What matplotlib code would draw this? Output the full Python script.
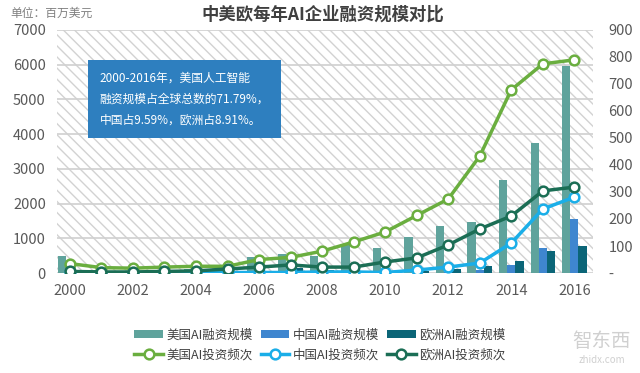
import numpy as np
import matplotlib
matplotlib.use('Agg')
import matplotlib.pyplot as plt
from matplotlib.patches import Rectangle

plt.rcParams['font.family'] = ['Noto Sans CJK SC', 'DejaVu Sans']
plt.rcParams['hatch.color'] = '#d2d2d2'
plt.rcParams['hatch.linewidth'] = 1.0

# 数据
years = np.arange(2000, 2017)
us_fund = [490, 80, 60, 100, 120, 150, 450, 550, 500, 800, 720, 1040, 1350, 1470, 2680, 3750, 5960]
cn_fund = [0, 0, 0, 0, 0, 0, 20, 60, 80, 10, 10, 20, 30, 90, 230, 720, 1560]
eu_fund = [0, 0, 0, 0, 0, 0, 30, 150, 100, 20, 30, 50, 110, 200, 340, 630, 780]
us_freq = [35, 20, 18, 22, 25, 25, 50, 58, 81, 115, 152, 213, 274, 433, 678, 774, 789]
cn_freq = [2, 1, 1, 2, 2, 2, 2, 2, 4, 4, 2, 11, 22, 37, 111, 237, 281]
eu_freq = [6, 4, 4, 6, 8, 15, 22, 30, 22, 22, 41, 56, 104, 163, 211, 304, 318]

c_us_bar, c_cn_bar, c_eu_bar = '#5fa39c', '#3f86cf', '#0b6577'
c_us_line, c_cn_line, c_eu_line = '#6aae3f', '#1aaee8', '#1b6e55'

fig = plt.figure(figsize=(6.4, 3.73), dpi=100)
ax = fig.add_axes([0.089, 0.268, 0.838, 0.652])
ax2 = ax.twinx()

# 背景斜线
ax.add_patch(Rectangle((0, 0), 1, 1, transform=ax.transAxes, facecolor='white',
                       edgecolor='#d2d2d2', hatch='\\\\\\', linewidth=0, zorder=0))

w = 0.26
b1 = ax.bar(years - w, us_fund, w, color=c_us_bar, label='美国AI融资规模', zorder=2)
b2 = ax.bar(years, cn_fund, w, color=c_cn_bar, label='中国AI融资规模', zorder=2)
b3 = ax.bar(years + w, eu_fund, w, color=c_eu_bar, label='欧洲AI融资规模', zorder=2)

mk = dict(marker='o', markersize=7, markerfacecolor='white', markeredgewidth=1.8, linewidth=2.5)
l1, = ax2.plot(years, us_freq, color=c_us_line, markeredgecolor=c_us_line, label='美国AI投资频次', **mk)
l2, = ax2.plot(years, cn_freq, color=c_cn_line, markeredgecolor=c_cn_line, label='中国AI投资频次', **mk)
l3, = ax2.plot(years, eu_freq, color=c_eu_line, markeredgecolor=c_eu_line, label='欧洲AI投资频次', **mk)

ax.set_xlim(1999.59, 2016.6)
ax.set_ylim(0, 7000)
ax2.set_ylim(0, 900)
ax.set_yticks(range(0, 7001, 1000))
ax2.set_yticks(range(0, 901, 100))
ax2.set_yticklabels(['-'] + [str(v) for v in range(100, 901, 100)])
ax.set_xticks(range(2000, 2017, 2))
ax.grid(axis='y', color='#d0d0d0', linewidth=1.2, zorder=1)
ax.set_axisbelow(True)

for a in (ax, ax2):
    for s in a.spines.values():
        s.set_visible(False)
    a.tick_params(length=0, labelsize=10.5, colors='#595959')
ax.tick_params(axis='x', pad=8)
ax.tick_params(axis='y', pad=8)
ax2.tick_params(axis='y', pad=11)

fig.text(0.505, 0.962, '中美欧每年AI企业融资规模对比', ha='center', va='center',
         fontsize=12.5, fontweight='bold', color='#404040')
fig.text(0.016, 0.965, '单位：百万美元', ha='left', va='center', fontsize=8.5, color='#7f7f7f')

# 说明框
ax.text(2000.94, 5010, '2000-2016年，美国人工智能\n融资规模占全球总数的71.79%，\n中国占9.59%，欧洲占8.91%。',
        ha='left', va='center', fontsize=8.5, color='white', linespacing=1.8, zorder=5,
        bbox=dict(boxstyle='square,pad=1.0', facecolor='#2e7fbf', edgecolor='none'))

handles = [b1, l1, b2, l2, b3, l3]
fig.legend(handles, [h.get_label() for h in handles], ncol=3, loc='center',
           bbox_to_anchor=(0.5, 0.075), frameon=False, fontsize=9, labelcolor='#404040',
           handlelength=2.3, columnspacing=0.6, handletextpad=0.3, labelspacing=0.6)

fig.text(0.94, 0.085, '智东西', ha='center', va='center', fontsize=14, color='#d0d0d0')
fig.text(0.94, 0.035, 'zhidx.com', ha='center', va='center', fontsize=7, color='#d0d0d0')

fig.savefig('out.png', dpi=100)
